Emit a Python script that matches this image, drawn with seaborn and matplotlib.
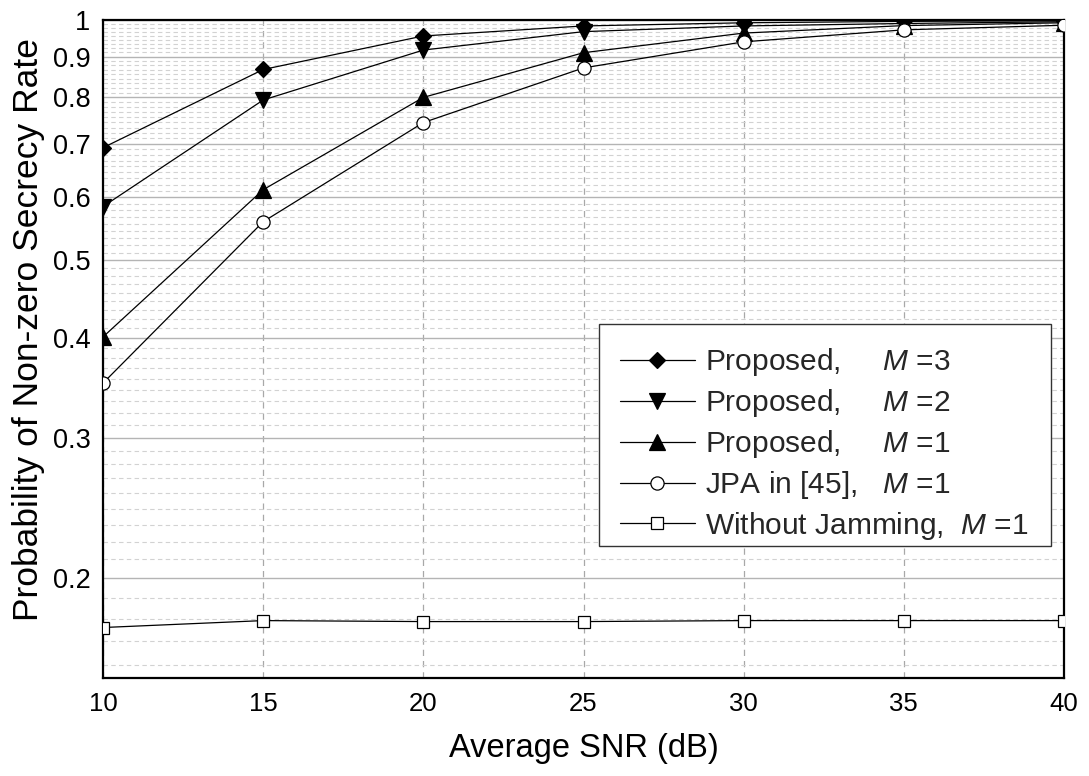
import numpy as np
import pandas as pd
import matplotlib
matplotlib.use("Agg")
import matplotlib.pyplot as plt
import matplotlib.ticker as mticker
from matplotlib.patches import Rectangle
import seaborn as sns

# ---- data ----
snr = [10, 15, 20, 25, 30, 35, 40]
prop_m3 = [0.692, 0.867, 0.955, 0.983, 0.992, 0.996, 0.998]
prop_m2 = [0.584, 0.794, 0.917, 0.967, 0.983, 0.990, 0.995]
prop_m1 = [0.401, 0.613, 0.800, 0.910, 0.963, 0.984, 0.992]
jpa_m1 = [0.351, 0.559, 0.744, 0.871, 0.939, 0.972, 0.985]
nojam_m1 = [0.1735, 0.1770, 0.1765, 0.1765, 0.1770, 0.1770, 0.1770]

labels = [
    "Proposed,     $M$ =3",
    "Proposed,     $M$ =2",
    "Proposed,     $M$ =1",
    "JPA in [45],   $M$ =1",
    "Without Jamming,  $M$ =1",
]
series = [prop_m3, prop_m2, prop_m1, jpa_m1, nojam_m1]
xticks = [10, 15, 20, 25, 30, 35, 40]
yticks = [0.2, 0.3, 0.4, 0.5, 0.6, 0.7, 0.8, 0.9, 1.0]
ytick_labels = ["0.2", "0.3", "0.4", "0.5", "0.6", "0.7", "0.8", "0.9", "1"]

sns.set_theme(style="white")
plt.rcParams["font.family"] = ["Liberation Sans", "DejaVu Sans"]
plt.rcParams["mathtext.fontset"] = "custom"
plt.rcParams["mathtext.rm"] = "Liberation Sans"
plt.rcParams["mathtext.it"] = "Liberation Sans:italic"
plt.rcParams["mathtext.default"] = "it"

fig = plt.figure(figsize=(10.89, 7.76), dpi=100)
ax = fig.add_axes([103 / 1089, 98 / 776, 961 / 1089, 658 / 776])

styles = [
    dict(marker="D", markersize=8.6, markerfacecolor="black"),
    dict(marker="v", markersize=12, markerfacecolor="black"),
    dict(marker="^", markersize=12, markerfacecolor="black"),
    dict(marker="o", markersize=9.5, markerfacecolor="white"),
    dict(marker="s", markersize=8.6, markerfacecolor="white"),
]

for vals, lab, st in zip(series, labels, styles):
    df = pd.DataFrame({"snr": snr, "p": vals})
    sns.lineplot(data=df, x="snr", y="p", ax=ax, color="black", linewidth=0.9,
                 markeredgecolor="black", markeredgewidth=0.9, label=lab,
                 zorder=3, **st)

ax.set_yscale("log")
ax.set_xlim(10, 40)
ax.set_ylim(0.15, 1.0)

ax.set_xticks(xticks)
ax.set_xticklabels([str(v) for v in xticks])
ax.set_yticks(yticks)
ax.set_yticklabels(ytick_labels)

# minor ticks: 8 per 0.1 interval (linear step 0.1/9)
minor = []
for lo in [0.1, 0.2, 0.3, 0.4, 0.5, 0.6, 0.7, 0.8, 0.9]:
    for k in range(1, 9):
        v = lo + k * 0.1 / 9
        if 0.15 <= v <= 1.0:
            minor.append(v)
ax.yaxis.set_minor_locator(mticker.FixedLocator(minor))
ax.yaxis.set_minor_formatter(mticker.NullFormatter())
ax.xaxis.set_minor_locator(mticker.NullLocator())

ax.grid(which="major", axis="y", color="#b4b4b4", linestyle="-", linewidth=1.0)
ax.grid(which="minor", axis="y", color="#d2d2d2", linestyle=(0, (4, 3)), linewidth=0.8)
ax.grid(which="major", axis="x", color="#a8a8a8", linestyle=(0, (5, 4)), linewidth=0.9)
ax.set_axisbelow(True)

ax.tick_params(axis="both", which="major", direction="in", length=9.5, width=1.6,
               color="black", labelcolor="black")
ax.tick_params(axis="y", which="major", pad=9, labelsize=19.5)
ax.tick_params(axis="x", which="major", pad=10, labelsize=18.5)
ax.tick_params(axis="y", which="minor", direction="in", length=5, width=1.3, color="black")

for s in ax.spines.values():
    s.set_visible(True)
    s.set_color("black")
    s.set_linewidth(1.6)

ax.set_xlabel("Average SNR (dB)", fontsize=23.5, color="black", labelpad=12)
ax.set_ylabel("Probability of Non-zero Secrecy Rate", fontsize=25.5, color="black")
ax.yaxis.set_label_coords(-0.060, 0.53)

# legend frame (Origin-style box)
box = Rectangle((0.5161, 0.2006), 0.4703, 0.3374, transform=ax.transAxes,
                facecolor="white", edgecolor="#333333", linewidth=1.0, zorder=6)
ax.add_patch(box)

leg = ax.legend(loc="center left", bbox_to_anchor=(0.538, 0.3556), fontsize=21.5,
                frameon=False, handlelength=2.5, handletextpad=0.33,
                labelspacing=0.3, borderpad=0, borderaxespad=0)
leg.set_zorder(7)

fig.savefig("out.png", dpi=100)
